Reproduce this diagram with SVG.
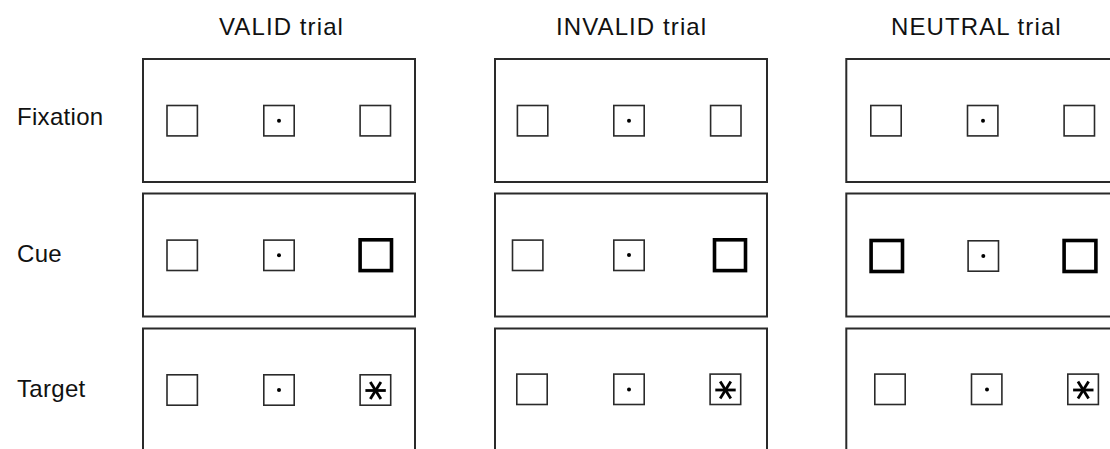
<svg xmlns="http://www.w3.org/2000/svg" width="1110" height="449" viewBox="0 0 1110 449">
<style>
.t{font-family:"Liberation Sans",Arial,sans-serif;font-size:24px;fill:#111;letter-spacing:1.1px}
.l{font-family:"Liberation Sans",Arial,sans-serif;font-size:24px;fill:#111;letter-spacing:0.3px}
.p{fill:none;stroke:#2a2a2a;stroke-width:2}
.s{fill:none;stroke:#2a2a2a;stroke-width:1.6}
.k{fill:none;stroke:#000;stroke-width:3.6}
.d{fill:#000}
.a{stroke:#000;stroke-width:2.8;stroke-linecap:butt}
</style>
<defs>
<g id="ast"><line class="a" x1="-10.2" y1="0" x2="10.2" y2="0"/><line class="a" x1="-5.3" y1="-8.4" x2="5.3" y2="8.4"/><line class="a" x1="-5.3" y1="8.4" x2="5.3" y2="-8.4"/></g>
</defs>
<rect width="1110" height="449" fill="#fff"/>
<g id="titles">
<text class="t" x="219" y="34.5">VALID trial</text>
<text class="t" x="556" y="34.5">INVALID trial</text>
<text class="t" x="891" y="34.5">NEUTRAL trial</text>
</g>
<g id="labels">
<text class="l" x="17" y="125">Fixation</text>
<text class="l" x="17" y="262">Cue</text>
<text class="l" x="17" y="397">Target</text>
</g>
<g id="valid">
<g id="valid-fixation">
<rect class="p" x="143" y="59" width="272" height="123"/>
<rect class="s" x="167" y="105.5" width="30.4" height="30.4"/>
<rect class="s" x="263.8" y="105.5" width="30.4" height="30.4"/>
<circle class="d" cx="279" cy="120.7" r="2"/>
<rect class="s" x="360.1" y="105.5" width="30.4" height="30.4"/>
</g>
<g id="valid-cue">
<rect class="p" x="143" y="193.5" width="272" height="123"/>
<rect class="s" x="167" y="240.1" width="30.4" height="30.4"/>
<rect class="s" x="263.8" y="240.1" width="30.4" height="30.4"/>
<circle class="d" cx="279" cy="255.3" r="2"/>
<rect class="k" x="360.1" y="239.8" width="31.4" height="30.8"/>
</g>
<g id="valid-target">
<rect class="p" x="143" y="328.5" width="272" height="124"/>
<rect class="s" x="167" y="374.8" width="30.4" height="30.4"/>
<rect class="s" x="263.8" y="374.8" width="30.4" height="30.4"/>
<circle class="d" cx="279" cy="390" r="2"/>
<rect class="s" x="360.1" y="374.8" width="30.6" height="30.4"/>
<use href="#ast" x="375.6" y="390.5"/>
</g>
</g>
<g id="invalid">
<g id="invalid-fixation">
<rect class="p" x="495" y="59" width="272" height="123"/>
<rect class="s" x="517.4" y="105.5" width="30.4" height="30.4"/>
<rect class="s" x="613.8" y="105.5" width="30.4" height="30.4"/>
<circle class="d" cx="629" cy="120.7" r="2"/>
<rect class="s" x="710.6" y="105.5" width="30.4" height="30.4"/>
</g>
<g id="invalid-cue">
<rect class="p" x="495" y="193.5" width="272" height="123"/>
<rect class="s" x="512.5" y="240.1" width="30.4" height="30.4"/>
<rect class="s" x="613.8" y="240.1" width="30.4" height="30.4"/>
<circle class="d" cx="629" cy="255" r="2"/>
<rect class="k" x="714.5" y="239.8" width="31" height="30.8"/>
</g>
<g id="invalid-target">
<rect class="p" x="495" y="328.5" width="272" height="124"/>
<rect class="s" x="516.8" y="374.1" width="30.4" height="30.4"/>
<rect class="s" x="613.8" y="374.1" width="30.4" height="30.4"/>
<circle class="d" cx="629" cy="389.5" r="2"/>
<rect class="s" x="710.1" y="374.1" width="30.6" height="30.4"/>
<use href="#ast" x="725.5" y="390"/>
</g>
</g>
<g id="neutral">
<g id="neutral-fixation">
<rect class="p" x="846.3" y="59" width="290" height="123"/>
<rect class="s" x="870.8" y="105.5" width="30.4" height="30.4"/>
<rect class="s" x="967.5" y="105.5" width="30.4" height="30.4"/>
<circle class="d" cx="983" cy="120.7" r="2"/>
<rect class="s" x="1064.1" y="105.5" width="30.4" height="30.4"/>
</g>
<g id="neutral-cue">
<rect class="p" x="846.3" y="193.5" width="290" height="123"/>
<rect class="k" x="871.1" y="240.5" width="31.4" height="31"/>
<rect class="s" x="968.1" y="240.8" width="30.4" height="30.4"/>
<circle class="d" cx="983.3" cy="256" r="2"/>
<rect class="k" x="1064.1" y="240.5" width="31.8" height="31"/>
</g>
<g id="neutral-target">
<rect class="p" x="846.3" y="328.5" width="290" height="124"/>
<rect class="s" x="874.8" y="374.1" width="30.4" height="30.4"/>
<rect class="s" x="971.5" y="374.1" width="30.4" height="30.4"/>
<circle class="d" cx="987" cy="389.5" r="2"/>
<rect class="s" x="1067.8" y="374.1" width="30.6" height="30.4"/>
<use href="#ast" x="1083.3" y="390"/>
</g>
</g>
</svg>
